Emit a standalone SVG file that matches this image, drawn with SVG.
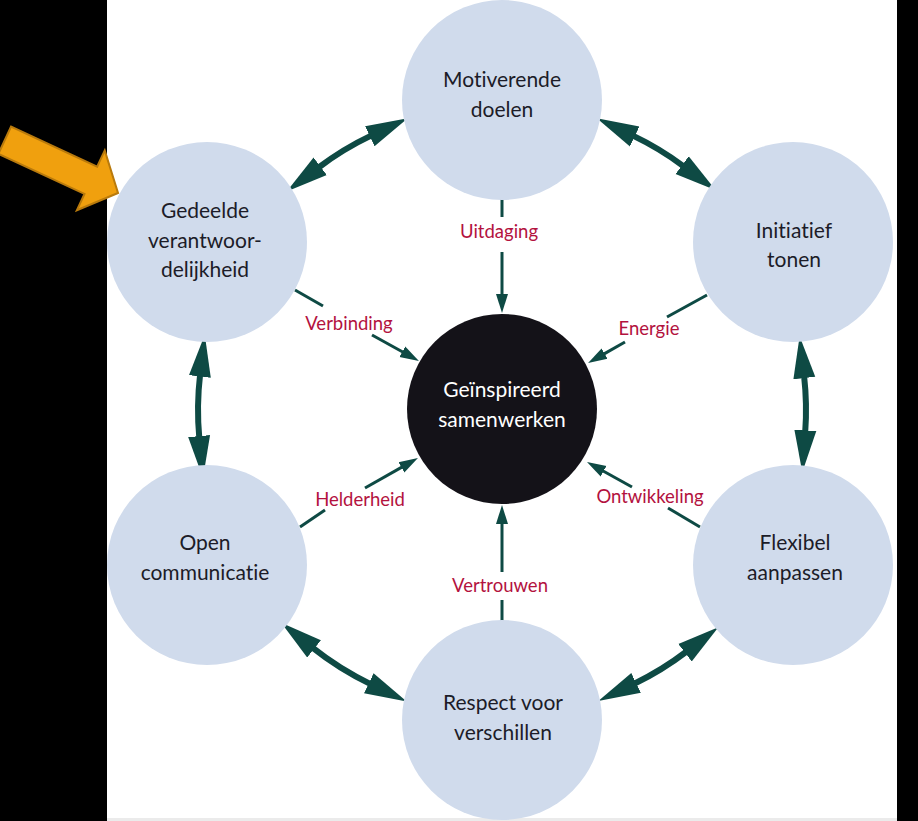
<svg xmlns="http://www.w3.org/2000/svg" width="918" height="821" viewBox="0 0 918 821">
  <style>
    .node { fill: #d0dbec; }
    .hub { fill: #141218; }
    .t { font-family: Lato, "Open Sans", "Liberation Sans", sans-serif; font-size: 21px; fill: #1c1c28; text-anchor: middle; font-variant-ligatures: none; font-feature-settings: "liga" 0, "clig" 0; }
    .tw { fill: #ffffff; }
    .lbl { font-family: Lato, "Open Sans", "Liberation Sans", sans-serif; font-size: 18.5px; fill: #b3123e; text-anchor: middle; font-variant-ligatures: none; font-feature-settings: "liga" 0, "clig" 0; }
    .big { fill: none; stroke: #0e4a44; stroke-width: 6; marker-start: url(#bigHead); marker-end: url(#bigHead); }
    .thin { fill: none; stroke: #0e4a44; stroke-width: 3; }
    .thinA { fill: none; stroke: #0e4a44; stroke-width: 3; marker-end: url(#smallHead); }
  </style>
  <defs>
    <marker id="bigHead" viewBox="-2 -12 44 24" refX="0" refY="0" markerWidth="44" markerHeight="24" markerUnits="userSpaceOnUse" orient="auto-start-reverse">
      <path d="M-2,-11 L40,0 L-2,11 Z" fill="#0e4a44"/>
    </marker>
    <marker id="smallHead" viewBox="-1 -7 20 14" refX="0" refY="0" markerWidth="20" markerHeight="14" markerUnits="userSpaceOnUse" orient="auto">
      <path d="M-1,-6 L18,0 L-1,6 Z" fill="#0e4a44"/>
    </marker>
  </defs>

  <rect x="0" y="0" width="918" height="821" fill="#000000"/>
  <rect x="107" y="0" width="790" height="821" fill="#ffffff"/>
  <rect x="107" y="818" width="790" height="3" fill="#ebebeb"/>

  <g id="connectors">
    <path class="big" d="M318.6,167.5 A304,304 0 0 1 371.6,135.4"/>
    <path class="big" d="M632.9,135.6 A304,304 0 0 1 683.7,166.3"/>
    <path class="big" d="M804.1,376.1 A304,304 0 0 1 805.2,432.3"/>
    <path class="big" d="M686.6,651.5 A304,304 0 0 1 634.3,683.7"/>
    <path class="big" d="M370.6,684.1 A304,304 0 0 1 312.5,647.7"/>
    <path class="big" d="M199.3,438.1 A304,304 0 0 1 200.1,374.5"/>

    <line class="thin" x1="502" y1="198" x2="502" y2="217"/>
    <line class="thinA" x1="502" y1="252" x2="502" y2="295"/>

    <line class="thin" x1="295" y1="290" x2="323" y2="306"/>
    <line class="thinA" x1="372" y1="335" x2="403.2" y2="352.3"/>

    <line class="thin" x1="707" y1="295" x2="667" y2="317"/>
    <line class="thinA" x1="625" y1="342" x2="603.7" y2="354.1"/>

    <line class="thin" x1="300" y1="527" x2="325" y2="510"/>
    <line class="thinA" x1="365" y1="488" x2="402.3" y2="466.9"/>

    <line class="thin" x1="700" y1="527" x2="668" y2="508"/>
    <line class="thinA" x1="632" y1="487" x2="602.7" y2="470.7"/>

    <line class="thin" x1="502" y1="622" x2="502" y2="600"/>
    <line class="thinA" x1="502" y1="572" x2="502" y2="523"/>
  </g>

  <g id="labels">
    <text class="lbl" x="499" y="238">Uitdaging</text>
    <text class="lbl" x="349" y="330">Verbinding</text>
    <text class="lbl" x="649" y="335">Energie</text>
    <text class="lbl" x="360" y="506">Helderheid</text>
    <text class="lbl" x="650" y="503">Ontwikkeling</text>
    <text class="lbl" x="500" y="592">Vertrouwen</text>
  </g>

  <g id="node-motiverende">
    <circle class="node" cx="502" cy="100" r="100"/>
    <text class="t" x="502" y="87">Motiverende</text>
    <text class="t" x="502" y="117">doelen</text>
  </g>
  <g id="node-gedeelde">
    <circle class="node" cx="207" cy="242" r="100"/>
    <text class="t" x="205" y="218">Gedeelde</text>
    <text class="t" x="205" y="248">verantwoor-</text>
    <text class="t" x="205" y="277">delijkheid</text>
  </g>
  <g id="node-initiatief">
    <circle class="node" cx="793" cy="242" r="100"/>
    <text class="t" x="794" y="238">Initiatief</text>
    <text class="t" x="794" y="267">tonen</text>
  </g>
  <g id="node-open">
    <circle class="node" cx="207" cy="565" r="100"/>
    <text class="t" x="205" y="550">Open</text>
    <text class="t" x="205" y="580">communicatie</text>
  </g>
  <g id="node-flexibel">
    <circle class="node" cx="793" cy="565" r="100"/>
    <text class="t" x="795" y="550">Flexibel</text>
    <text class="t" x="795" y="580">aanpassen</text>
  </g>
  <g id="node-respect">
    <circle class="node" cx="502" cy="720" r="100"/>
    <text class="t" x="503" y="710">Respect voor</text>
    <text class="t" x="503" y="740">verschillen</text>
  </g>
  <g id="node-center">
    <circle class="hub" cx="502" cy="409" r="95"/>
    <text class="t tw" x="502" y="397">Geïnspireerd</text>
    <text class="t tw" x="502" y="427">samenwerken</text>
  </g>

  <g id="pointer-arrow" transform="translate(118,193) rotate(25)">
    <polygon points="0,0 -30,33 -30,15 -125,15 -125,-15 -30,-15 -30,-33" fill="#f0a00e" stroke="#b97a0c" stroke-width="2" stroke-linejoin="miter"/>
  </g>
</svg>
